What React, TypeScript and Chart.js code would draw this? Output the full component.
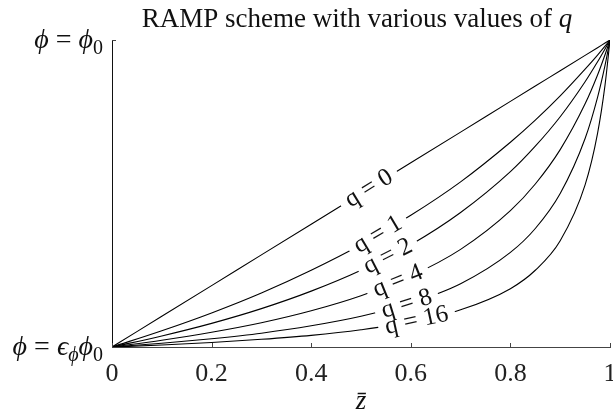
import React, { useEffect, useRef } from 'react';
import { Chart, registerables } from 'chart.js';
Chart.register(...registerables);

// z-bar sample positions
const zValues = [0, 0.1, 0.2, 0.3, 0.4, 0.5, 0.6, 0.7, 0.8, 0.85, 0.9, 0.95, 0.975, 0.99, 1];
// phi values (0 = eps*phi0, 1 = phi0) for each q
const phiQ0 = [0, 0.1, 0.2, 0.3, 0.4, 0.5, 0.6, 0.7, 0.8, 0.85, 0.9, 0.95, 0.975, 0.99, 1];
const phiQ1 = [0, 0.053, 0.111, 0.176, 0.25, 0.333, 0.429, 0.538, 0.667, 0.739, 0.818, 0.905, 0.951, 0.98, 1];
const phiQ2 = [0, 0.036, 0.077, 0.125, 0.182, 0.25, 0.333, 0.438, 0.571, 0.654, 0.75, 0.864, 0.929, 0.971, 1];
const phiQ4 = [0, 0.022, 0.048, 0.079, 0.118, 0.167, 0.231, 0.318, 0.444, 0.531, 0.643, 0.792, 0.886, 0.952, 1];
const phiQ8 = [0, 0.012, 0.027, 0.045, 0.069, 0.1, 0.143, 0.206, 0.308, 0.386, 0.5, 0.679, 0.813, 0.917, 1];
const phiQ16 = [0, 0.0065, 0.0145, 0.025, 0.038, 0.056, 0.081, 0.121, 0.19, 0.25, 0.346, 0.528, 0.696, 0.853, 1];
const seriesList = [phiQ0, phiQ1, phiQ2, phiQ4, phiQ8, phiQ16];
const qLabels = ['q = 0', 'q = 1', 'q = 2', 'q = 4', 'q = 8', 'q = 16'];
// z-bar position of each inline curve label
const labelZ = [0.516, 0.534, 0.554, 0.574, 0.592, 0.612];
const xTicks = [0, 0.2, 0.4, 0.6, 0.8, 1];
const titleText = 'RAMP scheme with various values of ';
const titleItalic = 'q';

const SERIF = '"Liberation Serif", "DejaVu Serif", serif';
const LABEL_SIZE = 25;

function interp(arr: number[], z: number) {
  for (let i = 0; i < zValues.length - 1; i++) {
    if (z >= zValues[i] && z <= zValues[i + 1]) {
      const t = (z - zValues[i]) / (zValues[i + 1] - zValues[i]);
      return arr[i] + t * (arr[i + 1] - arr[i]);
    }
  }
  return arr[arr.length - 1];
}

function labelGeom(chart: any, i: number) {
  const xs = chart.scales.x;
  const ys = chart.scales.y;
  const z = labelZ[i];
  const arr = seriesList[i];
  const cx = xs.getPixelForValue(z);
  const cy = ys.getPixelForValue(interp(arr, z));
  const x1 = xs.getPixelForValue(z - 0.03);
  const y1 = ys.getPixelForValue(interp(arr, z - 0.03));
  const x2 = xs.getPixelForValue(z + 0.03);
  const y2 = ys.getPixelForValue(interp(arr, z + 0.03));
  const angle = Math.atan2(y2 - y1, x2 - x1);
  const ctx = chart.ctx;
  ctx.save();
  ctx.font = `${LABEL_SIZE}px ${SERIF}`;
  const tw = ctx.measureText(qLabels[i]).width;
  ctx.restore();
  return { cx, cy, angle, w: tw + 14, h: 20, tw };
}

function drawRich(ctx: CanvasRenderingContext2D, parts: { t: string; it?: boolean; sub?: boolean }[], rightX: number, baseY: number, size: number) {
  const fontFor = (p: any) => `${p.it ? 'italic ' : ''}${p.sub ? Math.round(size * 0.7) : size}px ${SERIF}`;
  let total = 0;
  for (const p of parts) {
    ctx.font = fontFor(p);
    total += ctx.measureText(p.t).width;
  }
  let x = rightX - total;
  ctx.textAlign = 'left';
  ctx.textBaseline = 'alphabetic';
  for (const p of parts) {
    ctx.font = fontFor(p);
    ctx.fillText(p.t, x, baseY + (p.sub ? size * 0.22 : 0));
    x += ctx.measureText(p.t).width;
  }
}

const decorPlugin = {
  id: 'decor',
  beforeDatasetDraw(chart: any, args: any) {
    const ctx = chart.ctx;
    const g = labelGeom(chart, args.index);
    ctx.save();
    ctx.beginPath();
    ctx.rect(0, 0, chart.width, chart.height);
    const c = Math.cos(g.angle), s = Math.sin(g.angle);
    const pts = [[-g.w / 2, -g.h / 2], [g.w / 2, -g.h / 2], [g.w / 2, g.h / 2], [-g.w / 2, g.h / 2]];
    pts.forEach(([px, py], k) => {
      const X = g.cx + px * c - py * s;
      const Y = g.cy + px * s + py * c;
      if (k === 0) ctx.moveTo(X, Y); else ctx.lineTo(X, Y);
    });
    ctx.closePath();
    ctx.clip('evenodd');
  },
  afterDatasetDraw(chart: any) {
    chart.ctx.restore();
  },
  afterDraw(chart: any) {
    const ctx = chart.ctx;
    const xs = chart.scales.x;
    const ys = chart.scales.y;
    const area = chart.chartArea;
    ctx.save();
    ctx.fillStyle = '#111';
    // title
    ctx.font = `27px ${SERIF}`;
    const w1 = ctx.measureText(titleText).width;
    ctx.font = `italic 27px ${SERIF}`;
    const w2 = ctx.measureText(titleItalic).width;
    const tx = 357 - (w1 + w2) / 2;
    ctx.textBaseline = 'alphabetic';
    ctx.textAlign = 'left';
    ctx.font = `27px ${SERIF}`;
    ctx.fillText(titleText, tx, 27);
    ctx.font = `italic 27px ${SERIF}`;
    ctx.fillText(titleItalic, tx + w1, 27);

    // inward ticks
    ctx.strokeStyle = '#444';
    ctx.lineWidth = 1;
    xTicks.forEach((v) => {
      const x = Math.round(xs.getPixelForValue(v)) + 0.5;
      ctx.beginPath();
      ctx.moveTo(x, area.bottom);
      ctx.lineTo(x, area.bottom - 4);
      ctx.stroke();
    });
    [0, 1].forEach((v) => {
      const y = Math.round(ys.getPixelForValue(v)) + 0.5;
      ctx.beginPath();
      ctx.moveTo(area.left, y);
      ctx.lineTo(area.left + 4, y);
      ctx.stroke();
    });

    // y labels
    ctx.fillStyle = '#111';
    drawRich(ctx, [{ t: 'ϕ', it: true }, { t: ' = ' }, { t: 'ϕ', it: true }, { t: '0', sub: true }], 103, ys.getPixelForValue(1) + 8, 28);
    drawRich(ctx, [{ t: 'ϕ', it: true }, { t: ' = ' }, { t: 'ϵ', it: true }, { t: 'ϕ', it: true, sub: true }, { t: 'ϕ', it: true }, { t: '0', sub: true }], 103, ys.getPixelForValue(0) + 8, 28);

    // x axis title
    ctx.font = `italic 27px ${SERIF}`;
    ctx.textAlign = 'center';
    ctx.fillText('z̄', 361, 409);

    // curve labels
    for (let i = 0; i < qLabels.length; i++) {
      const g = labelGeom(chart, i);
      ctx.save();
      ctx.translate(g.cx, g.cy);
      ctx.rotate(g.angle);
      ctx.font = `${LABEL_SIZE}px ${SERIF}`;
      ctx.textAlign = 'center';
      ctx.textBaseline = 'middle';
      ctx.fillText(qLabels[i], 0, 0);
      ctx.restore();
    }
    ctx.restore();
  },
};

export default function App() {
  const ref = useRef<HTMLCanvasElement>(null);
  useEffect(() => {
    document.body.style.margin = '0';
    const datasets = seriesList.map((arr, i) => ({
      label: qLabels[i],
      data: zValues.map((z, k) => ({ x: z, y: arr[k] })),
      borderColor: '#000',
      borderWidth: 1.1,
      pointRadius: 0,
      cubicInterpolationMode: 'monotone' as const,
      fill: false,
    }));
    const chart = new Chart(ref.current!, {
      type: 'line',
      data: { datasets },
      options: {
        animation: false,
        responsive: false,
        layout: { padding: { top: 40, right: 3, left: 0, bottom: 0 } },
        plugins: { legend: { display: false }, tooltip: { enabled: false }, title: { display: false } },
        scales: {
          x: {
            type: 'linear',
            min: 0,
            max: 1,
            grid: { display: false },
            border: { display: true, color: '#444', width: 1 },
            afterBuildTicks: (s: any) => { s.ticks = xTicks.map((v) => ({ value: v })); },
            afterFit: (s: any) => { s.height = 69; s.paddingLeft = 0; s.paddingRight = 0; },
            ticks: {
              color: '#222',
              padding: 4,
              maxRotation: 0,
              font: { family: SERIF, size: 26 },
              callback: (v: any) => (v === 0 ? '0' : v === 1 ? '1' : Number(v).toFixed(1)),
            },
          },
          y: {
            type: 'linear',
            min: 0,
            max: 1,
            grid: { display: false },
            border: { display: true, color: '#111', width: 1 },
            ticks: { display: false },
            afterFit: (s: any) => { s.width = 112; },
          },
        },
      },
      plugins: [decorPlugin],
    });
    return () => chart.destroy();
  }, []);
  return <canvas ref={ref} width={613} height={416} style={{ display: 'block' }} />;
}
